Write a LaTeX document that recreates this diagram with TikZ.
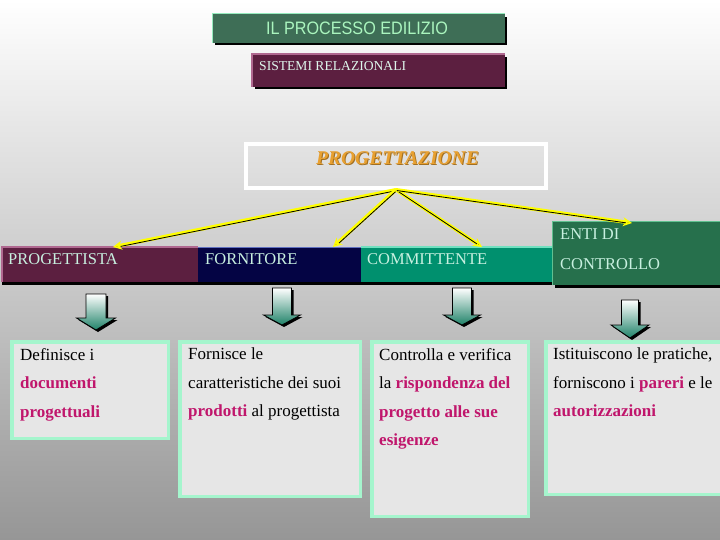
\documentclass[tikz,border=0pt]{standalone}
\usepackage{fontspec}
\setmainfont{Liberation Serif}
\newfontfamily\titlefont{Liberation Sans}
\usepackage{graphicx}
\usetikzlibrary{arrows.meta}
\definecolor{bgmid}{RGB}{214,214,214}
\definecolor{bgdark}{RGB}{150,150,150}
\definecolor{titlegreen}{RGB}{62,110,86}
\definecolor{titletext}{RGB}{170,245,190}
\definecolor{mintline}{RGB}{150,235,190}
\definecolor{maroon}{RGB}{92,31,64}
\definecolor{maroonhi}{RGB}{176,104,144}
\definecolor{navy}{RGB}{4,4,68}
\definecolor{navyhi}{RGB}{96,112,192}
\definecolor{tealbar}{RGB}{0,144,110}
\definecolor{tealhi}{RGB}{112,224,192}
\definecolor{entigreen}{RGB}{38,112,76}
\definecolor{entihi}{RGB}{96,192,144}
\definecolor{hdrtext}{RGB}{200,240,224}
\definecolor{orangeT}{RGB}{232,160,48}
\definecolor{boxmint}{RGB}{165,245,205}
\definecolor{boxgray}{RGB}{230,230,230}
\definecolor{mag}{RGB}{192,22,108}
\definecolor{arrowteal}{RGB}{30,130,104}
\definecolor{ylw}{RGB}{255,255,0}
\newcommand\blkarrow[6]{%
  \fill[black] (#1-#5+2,#2+2) -- (#1+#5+2,#2+2) -- (#1+#5+2,#3+2) -- (#1+#6+2,#3+2) -- (#1+2,#4+2) -- (#1-#6+2,#3+2) -- (#1-#5+2,#3+2) -- cycle;
  \shade[top color=white, bottom color=arrowteal, draw=black, line width=0.8pt] (#1-#5,#2) -- (#1+#5,#2) -- (#1+#5,#3) -- (#1+#6,#3) -- (#1,#4) -- (#1-#6,#3) -- (#1-#5,#3) -- cycle;}
\begin{document}
\begin{tikzpicture}[x=1pt,y=-1pt,
  plainbox/.style={inner sep=0pt, outer sep=0pt},
  hdrlabel/.style={anchor=base west, inner sep=0pt, text=hdrtext, font=\fontsize{16.5}{16.5}\selectfont},
  txtbox/.style={draw=boxmint, line width=3.5pt, fill=boxgray, inner sep=0pt},
  bodytext/.style={anchor=north west, inner sep=0pt, align=left, font=\fontsize{17}{28.5}\selectfont},
  yline/.style={draw=ylw, line width=3.5pt, -{Stealth[length=9pt,width=9pt,fill=black]}},
  shline/.style={draw=black, line width=0.8pt}
]
\useasboundingbox (0,0) rectangle (720,540);
\shade[top color=white, middle color=bgmid, bottom color=bgdark] (0,0) rectangle (720,540);

% title
\fill[black] (215,17) rectangle (507,45);
\node[plainbox, fill=titlegreen, minimum width=293pt, minimum height=29pt, anchor=north west] (title) at (212,14) {};
\draw[mintline, line width=1pt] (title.south west) -- (title.north west) -- (title.north east);
\node[inner sep=0pt, text=titletext] (titletxt) at (357,28) {\titlefont\fontsize{18}{18}\selectfont\scalebox{0.9}[1]{IL PROCESSO EDILIZIO}};

% sistemi relazionali
\fill[black] (255,57) rectangle (507,89);
\node[plainbox, fill=maroon, minimum width=253pt, minimum height=33pt, anchor=north west] (sist) at (252,54) {};
\draw[maroonhi, line width=2pt] (sist.south west) -- (sist.north west) -- (sist.north east);
\node[anchor=west, inner sep=0pt, text=hdrtext!60!white, font=\fontsize{13.6}{13.6}\selectfont] (sisttxt) at (259,66) {SISTEMI RELAZIONALI};

% progettazione
\node[draw=white, line width=3.5pt, minimum width=300pt, minimum height=44pt, inner sep=0pt] (prog) at (396,166) {};
\node[inner sep=0pt, text=orangeT!70!black] (progsh) at (398.5,159) {\fontsize{19.5}{19.5}\selectfont\bfseries\itshape PROGETTAZIONE};
\node[inner sep=0pt, text=orangeT] (progt) at (397.5,158) {\fontsize{19.5}{19.5}\selectfont\bfseries\itshape PROGETTAZIONE};

% header bars
\fill[black] (2,250) rectangle (555,285);
\node[plainbox, fill=maroon, minimum width=196pt, minimum height=35pt, anchor=north west] (hp) at (2,247) {};
\node[plainbox, fill=navy, minimum width=163pt, minimum height=35pt, anchor=north west] (hf) at (198,247) {};
\node[plainbox, fill=tealbar, minimum width=192pt, minimum height=35pt, anchor=north west] (hc) at (361,247) {};
\draw[maroonhi, line width=1.5pt] (hp.south west) -- (hp.north west) -- (hp.north east);
\draw[navyhi, line width=1pt] (hf.north west) -- (hf.north east);
\draw[tealhi, line width=1.5pt] (hc.north west) -- (hc.north east);
\fill[black] (555,225) rectangle (720,288);
\node[plainbox, fill=entigreen, minimum width=168pt, minimum height=63pt, anchor=north west] (he) at (552,222) {};
\draw[entihi, line width=1pt] (he.south west) -- (he.north west) -- (he.north east);

\node[hdrlabel] (lp) at (8,264) {PROGETTISTA};
\node[hdrlabel] (lf) at (205,264) {FORNITORE};
\node[hdrlabel] (lc) at (367,264) {COMMITTENTE};
\node[hdrlabel] (le1) at (560,240) {ENTI DI};
\node[hdrlabel] (le2) at (560,269) {CONTROLLO};

% connectors
\coordinate (tp) at (113,247);
\coordinate (tf) at (333,247);
\coordinate (tc) at (482,247);
\coordinate (te) at (632,223);
\foreach \t in {tp,tf,tc,te}{
  \draw[yline] (prog.south) -- (\t);
  \draw[shline, shorten >=7pt] ([shift={(0.8,0.8)}]prog.south) -- ([shift={(0.8,0.8)}]\t);
}

% block arrows
\blkarrow{96}{294}{318}{330}{10}{19.5}
\blkarrow{282}{288}{315}{325}{9.5}{18.5}
\blkarrow{462}{288}{315}{325}{9.5}{18.5}
\blkarrow{630}{300}{325}{338}{8.5}{19}

% text boxes
\node[txtbox, minimum width=156.5pt, minimum height=96.5pt] (b1) at (90,390) {};
\node[txtbox, minimum width=180.5pt, minimum height=154.5pt] (b2) at (270,419) {};
\node[txtbox, minimum width=156.5pt, minimum height=174.5pt] (b3) at (450,429) {};
\node[txtbox, minimum width=175.5pt, minimum height=152.5pt] (b4) at (633.5,418) {};

\node[bodytext] (t1) at (20,348) {Definisce i\\ {\bfseries\color{mag}documenti}\\ {\bfseries\color{mag}progettuali}};
\node[bodytext] (t2) at (188,348) {Fornisce le\\ caratteristiche dei suoi\\ {\bfseries\color{mag}prodotti} al progettista};
\node[bodytext] (t3) at (379,348) {Controlla e verifica\\ la {\bfseries\color{mag}rispondenza del}\\ {\bfseries\color{mag}progetto alle sue}\\ {\bfseries\color{mag}esigenze}};
\node[bodytext] (t4) at (553,348) {Istituiscono le pratiche,\\ forniscono i {\bfseries\color{mag}pareri} e le\\ {\bfseries\color{mag}autorizzazioni}};
\end{tikzpicture}
\end{document}
